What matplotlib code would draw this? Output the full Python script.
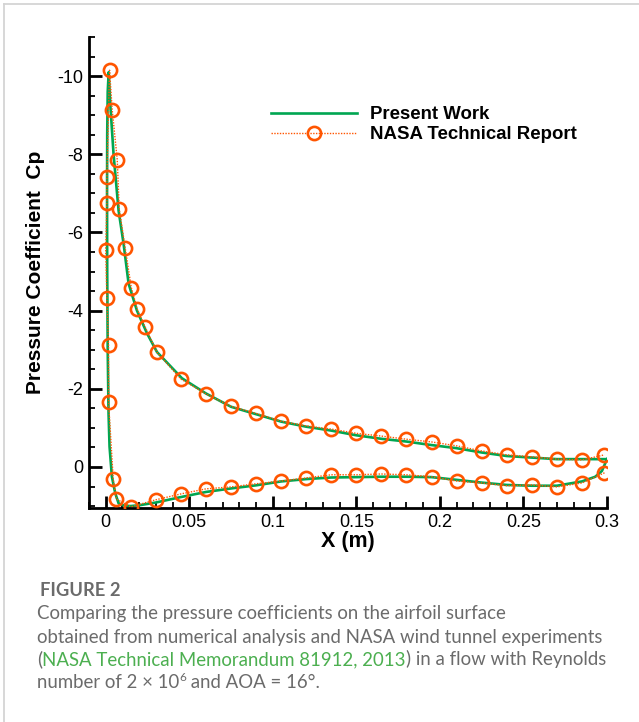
import matplotlib
matplotlib.use("Agg")
import matplotlib.pyplot as plt
from matplotlib.ticker import MultipleLocator, FuncFormatter
from matplotlib.lines import Line2D

plt.rcParams['axes.unicode_minus'] = False
plt.rcParams['font.family'] = ['Liberation Sans', 'DejaVu Sans']

# CFD result (Present Work): lower surface TE -> LE -> upper surface TE
x_cfd = [0.3, 0.297, 0.293, 0.285, 0.27, 0.255, 0.24, 0.225, 0.21, 0.195, 0.18,
         0.165, 0.15, 0.135, 0.12, 0.105, 0.09, 0.075, 0.06, 0.045, 0.03, 0.02,
         0.015, 0.011, 0.0077, 0.0057, 0.0037, 0.0023, 0.0017, 0.0012, 0.0009,
         0.0008, 0.0009, 0.0012, 0.0018, 0.0027, 0.0047, 0.0077, 0.0107, 0.0137,
         0.0187, 0.0247, 0.0307, 0.0456, 0.06, 0.075, 0.09, 0.105, 0.12, 0.135,
         0.15, 0.165, 0.18, 0.195, 0.21, 0.225, 0.24, 0.255, 0.27, 0.285, 0.3]
cp_cfd = [-0.2, 0.1, 0.25, 0.37, 0.48, 0.48, 0.46, 0.4, 0.33, 0.26, 0.25,
          0.25, 0.26, 0.27, 0.31, 0.37, 0.47, 0.55, 0.64, 0.77, 0.91, 0.98,
          1.0, 0.99, 0.93, 0.67, 0.25, -0.52, -1.37, -3.0, -5.0,
          -7.0, -8.5, -9.6, -10.1, -9.3, -8.0, -6.56, -5.71, -4.69,
          -4.0, -3.42, -2.94, -2.27, -1.88, -1.54, -1.35, -1.16, -1.03, -0.93,
          -0.81, -0.72, -0.65, -0.56, -0.48, -0.37, -0.28, -0.24, -0.2, -0.2, -0.2]

# Wind tunnel data (NASA Technical Report)
x_exp = [0.2985, 0.285, 0.27, 0.255, 0.24, 0.225, 0.21, 0.195, 0.18, 0.165,
         0.15, 0.135, 0.12, 0.105, 0.09, 0.075, 0.06, 0.045, 0.03, 0.015,
         0.0063, 0.0045, 0.0017, 0.0017, 0.0007, 0.0, 0.0007, 0.0007,
         0.0023, 0.0039, 0.0069, 0.0081, 0.0117, 0.0153, 0.0189, 0.0237,
         0.0308, 0.045, 0.06, 0.075, 0.09, 0.105, 0.12, 0.135, 0.15, 0.165,
         0.18, 0.195, 0.21, 0.225, 0.24, 0.255, 0.27, 0.285, 0.2985]
cp_exp = [0.15, 0.41, 0.51, 0.46, 0.48, 0.41, 0.36, 0.25, 0.2, 0.18,
          0.2, 0.2, 0.28, 0.36, 0.43, 0.51, 0.56, 0.69, 0.84, 1.02,
          0.82, 0.31, -1.66, -3.11, -4.31, -5.56, -6.76, -7.42,
          -10.15, -9.13, -7.86, -6.6, -5.59, -4.59, -4.03, -3.57,
          -2.93, -2.25, -1.87, -1.55, -1.37, -1.17, -1.05, -0.97, -0.86, -0.79,
          -0.71, -0.64, -0.54, -0.41, -0.31, -0.26, -0.2, -0.18, -0.31]

x_ticks = [0, 0.05, 0.1, 0.15, 0.2, 0.25, 0.3]
y_ticks = [-10, -8, -6, -4, -2, 0]

GREEN = '#00a651'
ORANGE = '#ff5500'

W, H = 639, 722
fig = plt.figure(figsize=(W / 100, H / 100), dpi=100)
ax = fig.add_axes([89 / W, 1 - 508 / H, (607 - 89) / W, (508 - 37) / H])

ax.plot(x_cfd, cp_cfd, color=GREEN, lw=1.9, zorder=2)
ax.plot(x_exp, cp_exp, color=ORANGE, lw=1.0, ls=(0, (1, 1)),
        marker='o', ms=9.5, mfc='none', mec=ORANGE, mew=1.9, zorder=3)

ax.set_xlim(-0.01, 0.3)
ax.set_ylim(1.05, -11)

for s in ['top', 'right']:
    ax.spines[s].set_visible(False)
for s in ['left', 'bottom']:
    ax.spines[s].set_linewidth(2.0)

ax.set_xticks(x_ticks)
ax.set_yticks(y_ticks)
ax.xaxis.set_minor_locator(MultipleLocator(0.01))
ax.yaxis.set_minor_locator(MultipleLocator(0.5))
ax.xaxis.set_major_formatter(FuncFormatter(lambda v, p: '%g' % round(v, 3)))
ax.yaxis.set_major_formatter(FuncFormatter(lambda v, p: '%g' % v))
ax.tick_params(which='major', direction='in', length=9, width=2.0,
               labelsize=13, pad=4)
ax.tick_params(which='minor', direction='in', length=4.5, width=1.3)

ax.set_xlabel('X (m)', fontsize=15.5, fontweight='bold', labelpad=0)
ax.set_ylabel('Pressure Coefficient  Cp', fontsize=15, fontweight='bold',
              labelpad=9)

handles = [Line2D([], [], color=GREEN, lw=1.9),
           Line2D([], [], color=ORANGE, lw=1.0, ls=(0, (1, 1)), marker='o',
                  ms=9.5, mfc='none', mec=ORANGE, mew=1.9)]
leg = ax.legend(handles, ['Present Work', 'NASA Technical Report'],
                loc='upper left', bbox_to_anchor=(262 / W, 1 - 97 / H),
                bbox_transform=fig.transFigure, frameon=False,
                prop={'weight': 'bold', 'size': 13.4}, handlelength=4.6,
                handletextpad=0.7, labelspacing=0.15, borderpad=0)

# frame lines of the figure panel
fig.add_artist(Line2D([4 / W, 4 / W], [0, 1 - 4 / H], color='#d4d4d4',
                      lw=1.3, transform=fig.transFigure))
fig.add_artist(Line2D([4 / W, 1], [1 - 4 / H, 1 - 4 / H], color='#d4d4d4',
                      lw=1.3, transform=fig.transFigure))

# caption
CAP = '#6b6b6b'
LINK = '#4caf50'
CS = 13.4
cap_font = ['Lato', 'DejaVu Sans']
fig.text(40 / W, 1 - 590 / H, 'FIGURE 2', fontsize=13.2, color=CAP,
         family=cap_font, fontweight='bold', va='center')
lines_y = [614, 637, 660, 683]
fig.text(37 / W, 1 - lines_y[0] / H,
         'Comparing the pressure coefficients on the airfoil surface',
         fontsize=CS, color=CAP, family=cap_font, va='center')
fig.text(37 / W, 1 - lines_y[1] / H,
         'obtained from numerical analysis and NASA wind tunnel experiments',
         fontsize=CS, color=CAP, family=cap_font, va='center')
t1 = fig.text(37 / W, 1 - lines_y[2] / H - 0.007, '(', fontsize=CS,
              color=CAP, family=cap_font, va='baseline')
t2 = fig.text(0, 0, 'NASA Technical Memorandum 81912, 2013', fontsize=CS,
              color=LINK, family=cap_font, va='baseline')
t3 = fig.text(0, 0, ') in a flow with Reynolds', fontsize=CS, color=CAP,
              family=cap_font, va='baseline')
u1 = fig.text(37 / W, 1 - lines_y[3] / H - 0.007, 'number of 2 \u00d7 10',
              fontsize=CS, color=CAP, family=cap_font, va='baseline')
u2 = fig.text(0, 0, '6', fontsize=8.5, color=CAP, family=cap_font,
              va='baseline')
u3 = fig.text(0, 0, ' and AOA = 16\u00b0.', fontsize=CS, color=CAP,
              family=cap_font, va='baseline')
fig.canvas.draw()
r = fig.canvas.get_renderer()


def place_after(prev, cur, dy=0.0):
    bb = prev.get_window_extent(r)
    cur.set_position((bb.x1 / fig.bbox.width, prev.get_position()[1] + dy))


place_after(t1, t2)
fig.canvas.draw()
place_after(t2, t3)
place_after(u1, u2, dy=7 / H)
fig.canvas.draw()
place_after(u2, u3, dy=-7 / H)

fig.savefig('out.png', dpi=100)
